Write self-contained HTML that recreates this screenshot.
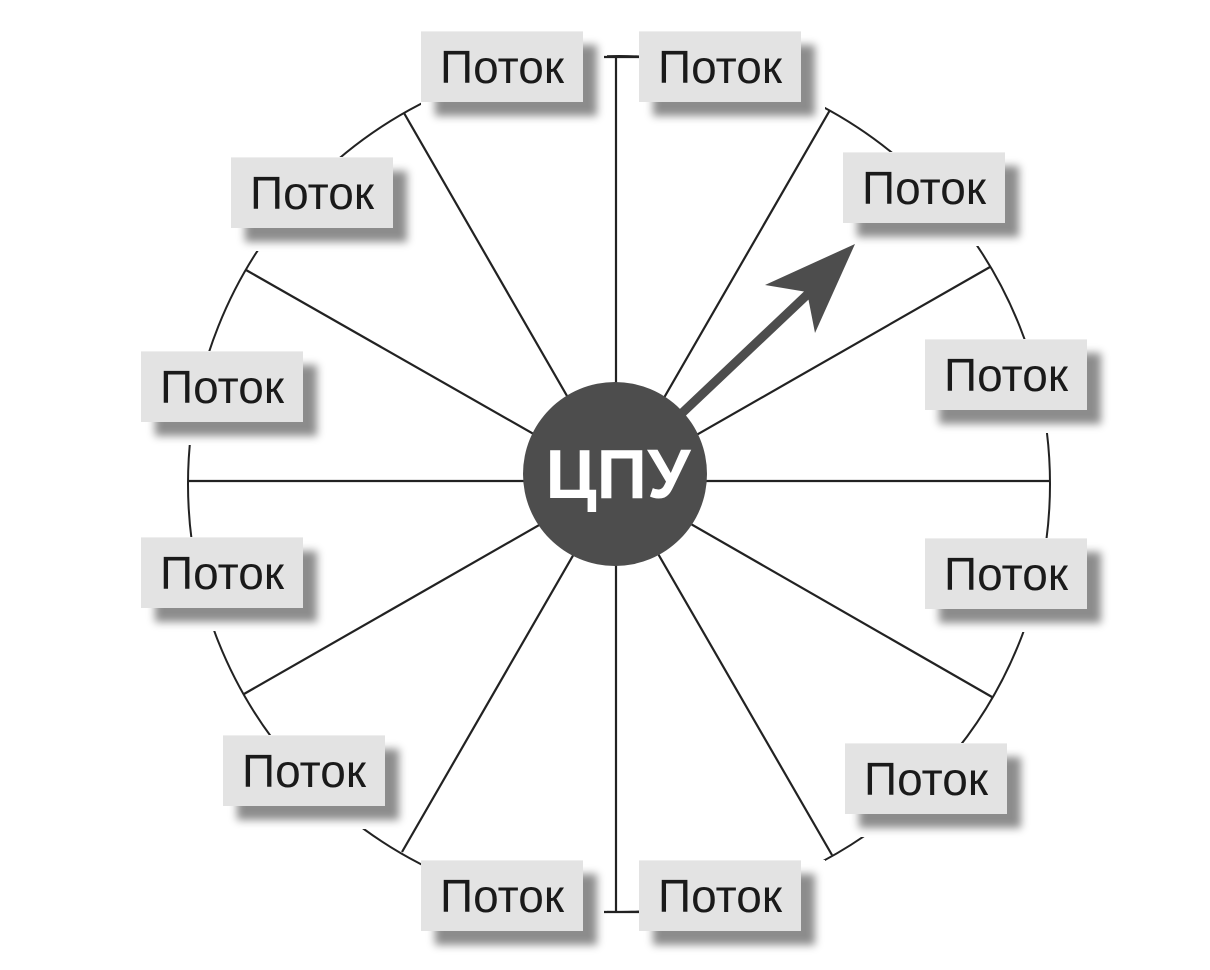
<!DOCTYPE html>
<html><head><meta charset="utf-8"><style>
body{margin:0;background:#fff;width:1210px;height:970px;position:relative;overflow:hidden}
svg{position:absolute;left:0;top:0}
.b{position:absolute;width:162px;height:70px;background:#e3e3e3;box-shadow:14px 14px 8px rgba(0,0,0,0.45);font-family:"Liberation Sans",sans-serif;font-size:46px;color:#1a1a1a;text-align:center;line-height:70px;border-top:1px solid #eee}
</style></head><body>
<svg width="1210" height="970">
<defs><mask id="m"><rect width="1210" height="970" fill="#fff"/>
<g fill="#000">
<rect x="421" y="31" width="186" height="94"/>
<rect x="639" y="31" width="186" height="94"/>
<rect x="843" y="152" width="186" height="94"/>
<rect x="925" y="339" width="186" height="94"/>
<rect x="925" y="538" width="186" height="94"/>
<rect x="845" y="743" width="186" height="94"/>
<rect x="639" y="860" width="186" height="94"/>
<rect x="421" y="860" width="186" height="94"/>
<rect x="223" y="735" width="186" height="94"/>
<rect x="141" y="537" width="186" height="94"/>
<rect x="141" y="351" width="186" height="94"/>
<rect x="231" y="157" width="186" height="94"/>
</g></mask></defs>
<ellipse cx="619" cy="484" rx="431" ry="428" fill="none" stroke="#222" stroke-width="2" mask="url(#m)"/>
<g stroke="#222" stroke-width="2.2">
<line x1="616" y1="481" x2="616" y2="57"/>
<line x1="616" y1="481" x2="616" y2="912"/>
<line x1="604" y1="57" x2="640" y2="57"/>
<line x1="604" y1="912" x2="640" y2="912"/>
<line x1="616" y1="481" x2="188" y2="481"/>
<line x1="616" y1="481" x2="1050" y2="481"/>
<line x1="616" y1="481" x2="830" y2="110"/>
<line x1="616" y1="481" x2="990" y2="267"/>
<line x1="616" y1="481" x2="992" y2="697"/>
<line x1="616" y1="481" x2="832" y2="855"/>
<line x1="616" y1="481" x2="402" y2="852"/>
<line x1="616" y1="481" x2="244" y2="694"/>
<line x1="616" y1="481" x2="246" y2="270"/>
<line x1="616" y1="481" x2="404" y2="113"/>
</g>
<line x1="680" y1="415" x2="810" y2="292" stroke="#4d4d4d" stroke-width="9"/>
<polygon points="855,244 765,285 807,292 815,333" fill="#4d4d4d"/>
<circle cx="615" cy="474" r="92" fill="#4d4d4d"/>
<text x="618" y="498" text-anchor="middle" font-family="Liberation Sans,sans-serif" font-weight="bold" font-size="70" fill="#fff">ЦПУ</text>
</svg>
<div class="b" style="left:421px;top:31px">Поток</div>
<div class="b" style="left:639px;top:31px">Поток</div>
<div class="b" style="left:843px;top:152px">Поток</div>
<div class="b" style="left:925px;top:339px">Поток</div>
<div class="b" style="left:925px;top:538px">Поток</div>
<div class="b" style="left:845px;top:743px">Поток</div>
<div class="b" style="left:639px;top:860px">Поток</div>
<div class="b" style="left:421px;top:860px">Поток</div>
<div class="b" style="left:223px;top:735px">Поток</div>
<div class="b" style="left:141px;top:537px">Поток</div>
<div class="b" style="left:141px;top:351px">Поток</div>
<div class="b" style="left:231px;top:157px">Поток</div>
</body></html>
